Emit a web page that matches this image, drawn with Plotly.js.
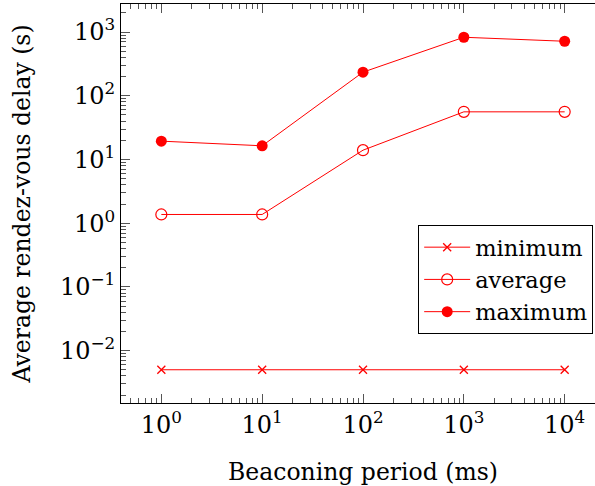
<!DOCTYPE html>
<html>
<head>
<meta charset="utf-8">
<script src="https://cdn.plot.ly/plotly-3.0.1.min.js"></script>
<style>
html,body{margin:0;padding:0;overflow:hidden;background:#fff;width:595px;height:486px;}
#chart{width:610px;height:486px;}
</style>
</head>
<body>
<div id="chart"></div>
<script>
// Data
const periods = [1, 10, 100, 1000, 10000];
const minimumDelay = [0.005, 0.005, 0.005, 0.005, 0.005];
const averageDelay = [1.37, 1.37, 14, 56, 56];
const maximumDelay = [19.4, 16.4, 235, 830, 718];

const seriesNames = ['minimum', 'average', 'maximum'];
const xTickVals = [1, 10, 100, 1000, 10000];
const xTickText = ['10<sup>0</sup>', '10<sup>1</sup>', '10<sup>2</sup>', '10<sup>3</sup>', '10<sup>4</sup>'];
const yTickVals = [0.01, 0.1, 1, 10, 100, 1000];
const yTickText = ['10<sup>\u22122</sup>', '10<sup>\u22121</sup>', '10<sup>0</sup>', '10<sup>1</sup>', '10<sup>2</sup>', '10<sup>3</sup>'];
const xDecades = [0.1, 1, 10, 100, 1000, 10000];
const yDecades = [0.001, 0.01, 0.1, 1, 10, 100, 1000];
const minorDigits = [2, 3, 4, 5, 6, 7, 8, 9];

function minorOf(decades) {
  const out = [];
  decades.forEach(d => minorDigits.forEach(m => out.push(+(d * m).toPrecision(6))));
  return out;
}

const RED = '#ff0000';
const FONT = 'DejaVu Serif';

const traces = [
  {
    x: periods, y: minimumDelay, name: seriesNames[0], type: 'scatter', mode: 'lines+markers',
    line: {color: RED, width: 1},
    marker: {symbol: 'x-thin', size: 8, color: RED, line: {color: RED, width: 1.3}}
  },
  {
    x: periods, y: averageDelay, name: seriesNames[1], type: 'scatter', mode: 'lines+markers',
    line: {color: RED, width: 1},
    marker: {symbol: 'circle-open', size: 11, color: RED, line: {color: RED, width: 1.2}}
  },
  {
    x: periods, y: maximumDelay, name: seriesNames[2], type: 'scatter', mode: 'lines+markers',
    line: {color: RED, width: 1},
    marker: {symbol: 'circle', size: 11, color: RED}
  }
];

const axisCommon = {
  type: 'log',
  showgrid: false,
  zeroline: false,
  showline: true,
  linecolor: '#000',
  linewidth: 1,
  mirror: 'ticks',
  ticks: 'inside',
  ticklen: 9,
  tickwidth: 1,
  tickcolor: '#555',
  tickmode: 'array',
  tickfont: {family: FONT, size: 24, color: '#000'}
};

const layout = {
  width: 610,
  height: 486,
  margin: {l: 121, r: 5, t: 4, b: 83},
  paper_bgcolor: '#fff',
  plot_bgcolor: '#fff',
  font: {family: FONT},
  showlegend: true,
  xaxis: Object.assign({}, axisCommon, {
    range: [-0.4, 4.4],
    tickvals: xTickVals,
    ticktext: xTickText,
    minor: {tickmode: 'array', tickvals: minorOf(xDecades), ticks: 'inside', ticklen: 5, tickcolor: '#555', tickwidth: 1, showgrid: false},
    title: {text: 'Beaconing period (ms)', font: {family: FONT, size: 23.5, color: '#000'}}
  }),
  yaxis: Object.assign({}, axisCommon, {
    range: [-2.823, 3.441],
    tickvals: yTickVals,
    ticktext: yTickText,
    automargin: true,
    minor: {tickmode: 'array', tickvals: minorOf(yDecades), ticks: 'inside', ticklen: 5, tickcolor: '#555', tickwidth: 1, showgrid: false},
    title: {text: 'Average rendez-vous delay (s)', standoff: 22, font: {family: FONT, size: 23.5, color: '#000'}}
  }),
  legend: {
    x: 0.614, y: 0.446, xanchor: 'left', yanchor: 'top',
    bgcolor: '#fff', bordercolor: '#000', borderwidth: 1,
    font: {family: FONT, size: 22.5, color: '#000'},
    traceorder: 'normal',
    itemwidth: 46,
    entrywidth: 140,
    entrywidthmode: 'pixels',
    tracegroupgap: 0
  }
};

Plotly.newPlot('chart', traces, layout, {staticPlot: true, displayModeBar: false});
</script>
</body>
</html>
